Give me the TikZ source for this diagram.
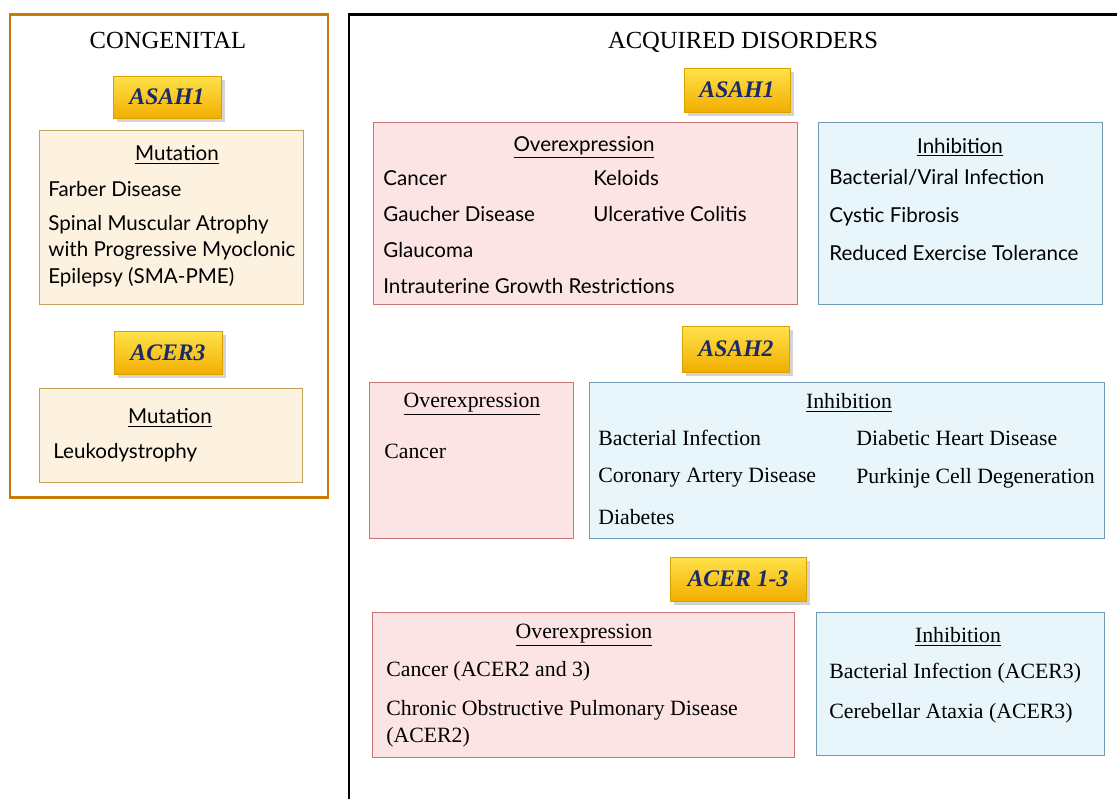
\documentclass[tikz,border=0pt]{standalone}
\usepackage{fontspec}
\setmainfont{Liberation Serif}
\newfontfamily\gillsans{Lato}
\usetikzlibrary{shadows}

\definecolor{framebrown}{HTML}{C97A07}
\definecolor{goldtop}{HTML}{FFE24A}
\definecolor{goldbottom}{HTML}{F2AE00}
\definecolor{goldline}{HTML}{D9A000}
\definecolor{navy}{HTML}{1B2A6B}
\definecolor{creamfill}{HTML}{FCF2DF}
\definecolor{creamline}{HTML}{BFA25A}
\definecolor{pinkfill}{HTML}{FDE4E4}
\definecolor{pinkline}{HTML}{C97575}
\definecolor{bluefill}{HTML}{E8F6FC}
\definecolor{blueline}{HTML}{6F9CB2}

\tikzset{
    genebox/.style={draw=goldline, top color=goldtop, bottom color=goldbottom,
        drop shadow={opacity=0.35, shadow xshift=2pt, shadow yshift=-2pt},
        text=navy, font=\fontsize{13.5}{15}\selectfont\bfseries\itshape},
    mutbox/.style={draw=creamline, fill=creamfill, line width=0.8pt, anchor=north west},
    overbox/.style={draw=pinkline, fill=pinkfill, line width=0.8pt, anchor=north west},
    inhibbox/.style={draw=blueline, fill=bluefill, line width=0.8pt, anchor=north west},
    title/.style={font=\fontsize{14}{16}\selectfont},
    headsans/.style={font=\gillsans\fontsize{11.7}{13}\selectfont, yshift=-3pt},
    itemsans/.style={font=\gillsans\fontsize{11.7}{13}\selectfont, anchor=west, inner sep=0pt},
    headserif/.style={font=\fontsize{12.4}{14}\selectfont, yshift=-2pt},
    itemserif/.style={font=\fontsize{12.4}{14}\selectfont, anchor=west, inner sep=0pt}
}

\begin{document}
\begin{tikzpicture}[x=0.02cm, y=-0.02cm]
    \useasboundingbox (0,0) rectangle (1117,799);

    % congenital side
    \draw[framebrown, line width=1.7pt] (10,14) rectangle (328,497);
    \node[title] (cong) at (168,40) {CONGENITAL};

    \node[genebox, minimum width=2.16cm, minimum height=0.84cm] (asah1c) at (167,97) {ASAH1};
    \node[mutbox, minimum width=5.28cm, minimum height=3.48cm] (mut1) at (39,130) {};
    \node[headsans] (mut1h) at (177,150) {\underline{Mutation}};
    \node[itemsans] (farber) at (48,189) {Farber Disease};
    \node[itemsans] (sma1) at (48,225) {Spinal Muscular Atrophy};
    \node[itemsans] (sma2) at (48,251) {with Progressive Myoclonic};
    \node[itemsans] (sma3) at (48,277) {Epilepsy (SMA-PME)};

    \node[genebox, minimum width=2.16cm, minimum height=0.86cm] (acer3c) at (168,353) {ACER3};
    \node[mutbox, minimum width=5.26cm, minimum height=1.88cm] (mut2) at (39,388) {};
    \node[headsans] (mut2h) at (170,413) {\underline{Mutation}};
    \node[itemsans] (leuko) at (53,453) {Leukodystrophy};

    % acquired side
    \draw[black, line width=1.7pt] (1117,14) -| (349,799);
    \node[title] (acq) at (743,42) {ACQUIRED DISORDERS};

    % ASAH1
    \node[genebox, minimum width=2.12cm, minimum height=0.88cm] (asah1a) at (737,90) {ASAH1};
    \node[overbox, minimum width=8.48cm, minimum height=3.64cm] (over1) at (373,122) {};
    \node[headsans] (over1h) at (584,142) {\underline{Overexpression}};
    \node[itemsans] (cancer1) at (383,178) {Cancer};
    \node[itemsans] (keloids) at (593,178) {Keloids};
    \node[itemsans] (gaucher) at (383,214) {Gaucher Disease};
    \node[itemsans] (colitis) at (593,214) {Ulcerative Colitis};
    \node[itemsans] (glaucoma) at (383,250) {Glaucoma};
    \node[itemsans] (iugr) at (383,286) {Intrauterine Growth Restrictions};

    \node[inhibbox, minimum width=5.68cm, minimum height=3.64cm] (inhib1) at (818,122) {};
    \node[headsans] (inhib1h) at (960,142) {\underline{Inhibition}};
    \node[itemsans] (viral) at (829,177) {Bacterial/Viral Infection};
    \node[itemsans] (cf) at (829,217) {Cystic Fibrosis};
    \node[itemsans] (exercise) at (829,253) {Reduced Exercise Tolerance};

    % ASAH2
    \node[genebox, minimum width=2.14cm, minimum height=0.92cm] (asah2) at (736,349) {ASAH2};
    \node[overbox, minimum width=4.08cm, minimum height=3.12cm] (over2) at (369,382) {};
    \node[headserif] (over2h) at (472,401) {\underline{Overexpression}};
    \node[itemserif] (cancer2) at (384,451) {Cancer};

    \node[inhibbox, minimum width=10.3cm, minimum height=3.12cm] (inhib2) at (589,382) {};
    \node[headserif] (inhib2h) at (849,399) {\underline{Inhibition}};
    \node[itemserif] (bact2) at (598,438) {Bacterial Infection};
    \node[itemserif] (coronary) at (598,478) {Coronary Artery Disease};
    \node[itemserif] (diabetes) at (598,517) {Diabetes};
    \node[itemserif] (dhd) at (856,438) {Diabetic Heart Disease};
    \node[itemserif] (purkinje) at (856,478) {Purkinje Cell Degeneration};

    % ACER 1-3
    \node[genebox, minimum width=2.72cm, minimum height=0.88cm] (acer) at (738,579) {ACER 1-3};
    \node[overbox, minimum width=8.44cm, minimum height=2.9cm] (over3) at (372,612) {};
    \node[headserif] (over3h) at (584,632) {\underline{Overexpression}};
    \node[itemserif] (cancer3) at (386,671) {Cancer (ACER2 and 3)};
    \node[itemserif] (copd1) at (386,710) {Chronic Obstructive Pulmonary Disease};
    \node[itemserif] (copd2) at (386,737) {(ACER2)};

    \node[inhibbox, minimum width=5.76cm, minimum height=2.86cm] (inhib3) at (816,612) {};
    \node[headserif] (inhib3h) at (958,633) {\underline{Inhibition}};
    \node[itemserif] (bact3) at (829,673) {Bacterial Infection (ACER3)};
    \node[itemserif] (ataxia) at (829,713) {Cerebellar Ataxia (ACER3)};
\end{tikzpicture}
\end{document}
